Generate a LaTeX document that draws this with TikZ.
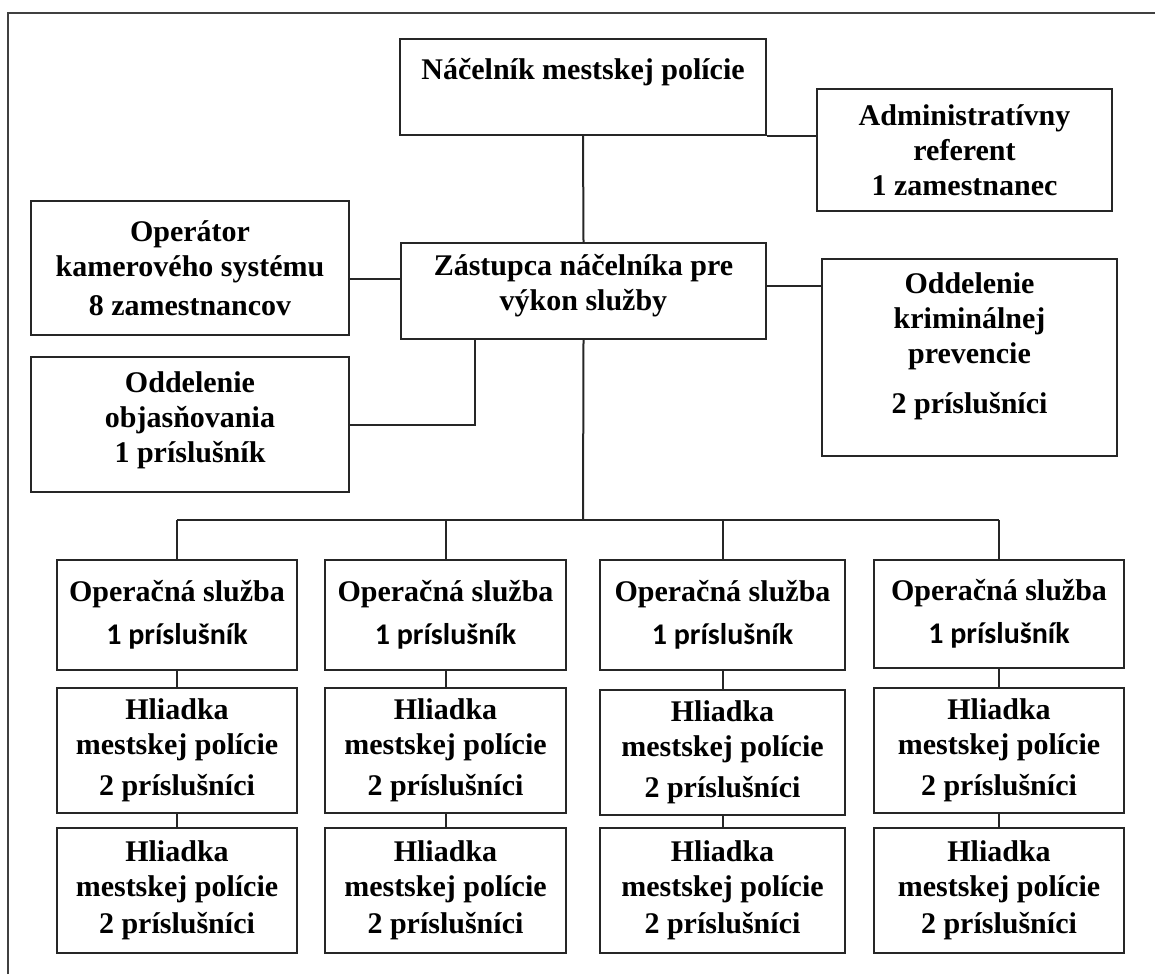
\documentclass[tikz,border=0pt]{standalone}
\usepackage{fontspec}
\setmainfont{Liberation Serif}
\newfontfamily\carlito{Carlito}
\begin{document}
\begin{tikzpicture}[x=0.5pt,y=-0.5pt,
        box/.style={draw=black!85,line width=1pt,align=center,inner sep=0pt,
            font=\fontsize{15}{17.5}\selectfont\bfseries},
        link/.style={draw=black!85,line width=1pt}]
        %% Frame
        \useasboundingbox (0,0) rectangle (1155,974);
        \draw[line width=0.7pt,black!75] (8,974) -- (8,13) -- (1155,13);
        %% Upper part
        \node[box,minimum width=183pt,minimum height=48pt]   (nac)  at (583,87)
            {Náčelník mestskej polície\\[1pt]\mbox{}};
        \node[box,minimum width=147.5pt,minimum height=61pt] (adm)  at (964.5,150)
            {Administratívny\\referent\\1 zamestnanec};
        \node[box,minimum width=159pt,minimum height=67pt]   (ope)  at (190,268)
            {Operátor\\kamerového systému\\[2pt]8 zamestnancov};
        \node[box,minimum width=182.5pt,minimum height=48pt] (zas)  at (583.5,291)
            {Zástupca náčelníka pre\\výkon služby\\[-9pt]\mbox{}};
        \node[box,minimum width=147.5pt,minimum height=98.5pt] (oddk) at (969.5,357.5)
            {Oddelenie\\kriminálnej\\prevencie\\[7.5pt]2 príslušníci\\[-3pt]\mbox{}};
        \node[box,minimum width=159pt,minimum height=67.5pt] (obj)  at (190,424.5)
            {Oddelenie\\objasňovania\\1 príslušník\\[-10pt]\mbox{}};
        %% Columns
        \node[box,minimum width=120pt,minimum height=55pt]   (op1)  at (177,615)
            {Operačná služba\\[4pt]{\carlito 1 príslušník}};
            \node[box,minimum width=120pt,minimum height=62.5pt] (hl1a) at (177,750.5)
                {Hliadka\\mestskej polície\\[3pt]2 príslušníci};
            \node[box,minimum width=120pt,minimum height=62.5pt] (hl1b) at (177,890.5)
                {Hliadka\\mestskej polície\\[1pt]2 príslušníci};
        \node[box,minimum width=120.5pt,minimum height=55pt] (op2)  at (445.5,615)
            {Operačná služba\\[4pt]{\carlito 1 príslušník}};
            \node[box,minimum width=120.5pt,minimum height=62.5pt] (hl2a) at (445.5,750.5)
                {Hliadka\\mestskej polície\\[3pt]2 príslušníci};
            \node[box,minimum width=120.5pt,minimum height=62.5pt] (hl2b) at (445.5,890.5)
                {Hliadka\\mestskej polície\\[1pt]2 príslušníci};
        \node[box,minimum width=122.5pt,minimum height=55pt] (op3)  at (722.5,615)
            {Operačná služba\\[4pt]{\carlito 1 príslušník}};
            \node[box,minimum width=122.5pt,minimum height=62.5pt] (hl3a) at (722.5,752)
                {Hliadka\\mestskej polície\\[3pt]2 príslušníci};
            \node[box,minimum width=122.5pt,minimum height=62.5pt] (hl3b) at (722.5,890.5)
                {Hliadka\\mestskej polície\\[1pt]2 príslušníci};
        \node[box,minimum width=125pt,minimum height=54pt]   (op4)  at (999,614)
            {Operačná služba\\[4pt]{\carlito 1 príslušník}};
            \node[box,minimum width=125pt,minimum height=62.5pt] (hl4a) at (999,750.5)
                {Hliadka\\mestskej polície\\[3pt]2 príslušníci};
            \node[box,minimum width=125pt,minimum height=62.5pt] (hl4b) at (999,890.5)
                {Hliadka\\mestskej polície\\[1pt]2 príslušníci};
        %% Lines
        \draw[link] (nac.south) -- (zas.north);
        \draw[link] (nac.south east) -- (nac.south east -| adm.west);
        \draw[link] ([yshift=-5.5pt]ope.east) -- ([yshift=-5.5pt]ope.east -| zas.west);
        \draw[link] ([yshift=2.5pt]zas.east) -- ([yshift=2.5pt]zas.east -| oddk.west);
        \draw[link] (obj.east) -| ([xshift=-54.5pt]zas.south);
        \coordinate (bus) at (583,520);
        \draw[link] (zas.south) -- (bus);
        \draw[link] (op1.north |- bus) -- (op4.north |- bus);
        \draw[link] (op1.north |- bus) -- (op1.north);
        \draw[link] (op2.north |- bus) -- (op2.north);
        \draw[link] (op3.north |- bus) -- (op3.north);
        \draw[link] (op4.north |- bus) -- (op4.north);
        \draw[link] (op1.south) -- (hl1a.north);
            \draw[link] (hl1a.south) -- (hl1b.north);
        \draw[link] (op2.south) -- (hl2a.north);
            \draw[link] (hl2a.south) -- (hl2b.north);
        \draw[link] (op3.south) -- (hl3a.north);
            \draw[link] (hl3a.south) -- (hl3b.north);
        \draw[link] (op4.south) -- (hl4a.north);
            \draw[link] (hl4a.south) -- (hl4b.north);
\end{tikzpicture}
\end{document}
